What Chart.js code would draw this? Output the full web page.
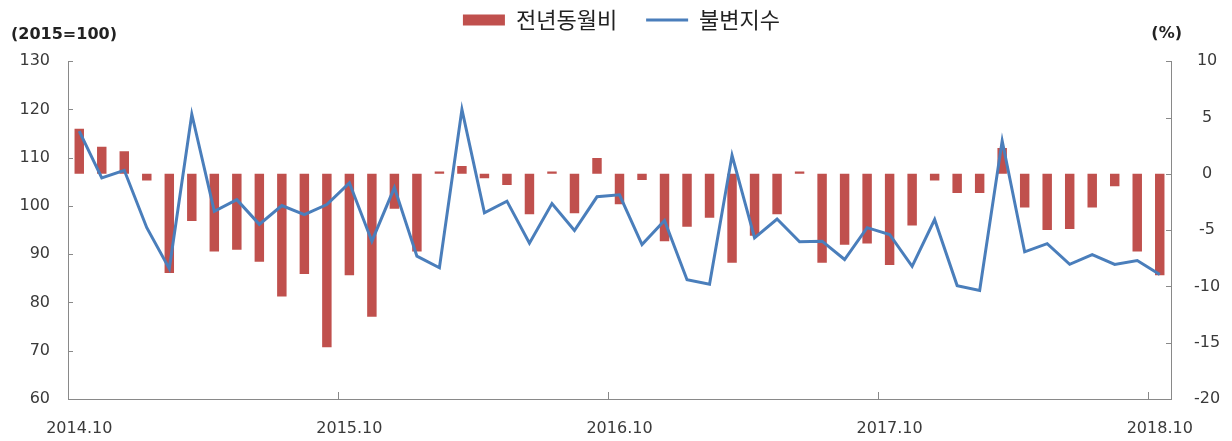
<!DOCTYPE html>
<html>
<head>
<meta charset="utf-8">
<script src="https://cdn.jsdelivr.net/npm/chart.js@4.4.0/dist/chart.umd.min.js"></script>
<style>
  html, body { margin: 0; padding: 0; background: #fff; }
</style>
</head>
<body>
<canvas id="chart" width="1232" height="441"></canvas>
<script>
// monthly categories, 2014.10 - 2018.10
const months = [
    '2014.10', '2014.11', '2014.12',
    '2015.01', '2015.02', '2015.03', '2015.04', '2015.05', '2015.06',
    '2015.07', '2015.08', '2015.09', '2015.10', '2015.11', '2015.12',
    '2016.01', '2016.02', '2016.03', '2016.04', '2016.05', '2016.06',
    '2016.07', '2016.08', '2016.09', '2016.10', '2016.11', '2016.12',
    '2017.01', '2017.02', '2017.03', '2017.04', '2017.05', '2017.06',
    '2017.07', '2017.08', '2017.09', '2017.10', '2017.11', '2017.12',
    '2018.01', '2018.02', '2018.03', '2018.04', '2018.05', '2018.06',
    '2018.07', '2018.08', '2018.09', '2018.10'
];

// 전년동월비 (%), right axis
const yoyChange = [
    4.0, 2.4, 2.0,
    -0.6, -8.8, -4.2, -6.9, -6.75, -7.8,
    -10.9, -8.9, -15.4, -9.0, -12.7, -3.1,
    -6.9, 0.2, 0.7, -0.4, -1.0, -3.6,
    0.2, -3.5, 1.4, -2.7, -0.55, -6.0,
    -4.7, -3.9, -7.9, -5.5, -3.6, 0.2,
    -7.9, -6.3, -6.2, -8.1, -4.6, -0.6,
    -1.7, -1.7, 2.3, -3.0, -5.0, -4.9,
    -3.0, -1.1, -6.9, -9.0
];

// 불변지수 (2015=100), left axis
const constIndex = [
    115.5, 105.8, 107.4,
    95.5, 87.0, 119.0, 98.9, 101.3, 96.2,
    100.1, 98.2, 100.3, 104.8, 92.7, 103.8,
    89.6, 87.2, 120.0, 98.6, 101.0, 92.3,
    100.5, 94.9, 101.9, 102.3, 92.0, 97.0,
    84.7, 83.8, 110.5, 93.4, 97.3, 92.6,
    92.7, 88.9, 95.5, 94.1, 87.5, 97.2,
    83.5, 82.5, 113.5, 90.5, 92.2, 87.9,
    89.9, 87.9, 88.7, 85.8
];

const leftTicks = [60, 70, 80, 90, 100, 110, 120, 130];
const rightTicks = [-20, -15, -10, -5, 0, 5, 10];
const shownMonths = ['2014.10', '2015.10', '2016.10', '2017.10', '2018.10'];

const AXIS_COLOR = '#898989';
const TEXT_COLOR = '#3a3a3a';
const TICK_FONT = { family: '"DejaVu Sans"', size: 16 };

// Excel-style tick marks pointing into the plot, plus the "(%)" unit label
const innerTicks = {
    id: 'innerTicks',
    afterDraw(chart) {
        const { ctx, chartArea: a, scales: { x, y, y1 } } = chart;
        ctx.save();
        ctx.strokeStyle = AXIS_COLOR;
        ctx.lineWidth = 1;
        ctx.beginPath();
        y.ticks.forEach(t => {
            const py = Math.round(y.getPixelForValue(t.value)) + 0.5;
            ctx.moveTo(a.left, py);
            ctx.lineTo(a.left + 5, py);
        });
        y1.ticks.forEach(t => {
            const py = Math.round(y1.getPixelForValue(t.value)) + 0.5;
            ctx.moveTo(a.right, py);
            ctx.lineTo(a.right - 5, py);
        });
        const half = (x.getPixelForValue(1) - x.getPixelForValue(0)) / 2;
        months.forEach((m, i) => {
            if (!shownMonths.includes(m)) return;
            const px = Math.round(x.getPixelForValue(i) - half) + 0.5;
            ctx.moveTo(px, a.bottom);
            ctx.lineTo(px, a.bottom - 7);
        });
        ctx.stroke();

        ctx.font = 'bold 16px "DejaVu Sans"';
        ctx.fillStyle = '#222';
        ctx.textAlign = 'right';
        ctx.textBaseline = 'middle';
        ctx.fillText('(%)', a.right + 11, a.top - 27);
        ctx.restore();
    }
};

new Chart(document.getElementById('chart').getContext('2d'), {
    type: 'bar',
    data: {
        labels: months,
        datasets: [
            {
                type: 'bar',
                label: '전년동월비',
                data: yoyChange,
                yAxisID: 'y1',
                backgroundColor: '#C0504D',
                borderWidth: 0,
                barPercentage: 0.42,
                categoryPercentage: 1,
                pointStyle: 'rect',
                order: 1
            },
            {
                type: 'line',
                label: '불변지수',
                data: constIndex,
                yAxisID: 'y',
                borderColor: '#4A7EBB',
                backgroundColor: '#4A7EBB',
                borderWidth: 3,
                pointRadius: 0,
                tension: 0,
                fill: false,
                pointStyle: 'line',
                order: 0
            }
        ]
    },
    options: {
        responsive: false,
        devicePixelRatio: 1,
        animation: false,
        layout: {
            padding: { top: -20, left: 11, right: 0, bottom: 0 }
        },
        scales: {
            x: {
                grid: { display: false, drawTicks: false },
                border: { display: true, color: AXIS_COLOR, width: 1 },
                ticks: {
                    autoSkip: false,
                    maxRotation: 0,
                    padding: 20,
                    color: TEXT_COLOR,
                    font: TICK_FONT,
                    callback: (value, index) => shownMonths.includes(months[index]) ? months[index] : null
                },
                afterFit: scale => { scale.height = 42; }
            },
            y: {
                position: 'left',
                min: leftTicks[0],
                max: leftTicks[leftTicks.length - 1],
                grid: { display: false, drawTicks: false },
                border: { display: true, color: AXIS_COLOR, width: 1 },
                ticks: { padding: 18, color: TEXT_COLOR, font: TICK_FONT },
                afterBuildTicks: scale => { scale.ticks = leftTicks.map(v => ({ value: v })); },
                afterFit: scale => { scale.width = 57; }
            },
            y1: {
                position: 'right',
                min: rightTicks[0],
                max: rightTicks[rightTicks.length - 1],
                grid: { display: false, drawTicks: false },
                border: { display: true, color: AXIS_COLOR, width: 1 },
                ticks: { padding: 23, crossAlign: 'center', color: TEXT_COLOR, font: TICK_FONT },
                afterBuildTicks: scale => { scale.ticks = rightTicks.map(v => ({ value: v })); },
                afterFit: scale => { scale.width = 61; }
            }
        },
        plugins: {
            legend: {
                position: 'top',
                labels: {
                    usePointStyle: true,
                    pointStyleWidth: 42,
                    boxHeight: 11,
                    padding: 29,
                    color: '#222',
                    font: { family: '"Noto Sans CJK KR"', size: 22 },
                    sort: (a, b) => a.datasetIndex - b.datasetIndex
                }
            },
            title: {
                display: true,
                text: '(2015=100)',
                align: 'start',
                weight: 500,
                color: '#222',
                font: { family: '"DejaVu Sans"', size: 16, weight: 'bold' },
                padding: { top: -16, bottom: 17 }
            },
            tooltip: { enabled: false }
        }
    },
    plugins: [innerTicks]
});
</script>
</body>
</html>
